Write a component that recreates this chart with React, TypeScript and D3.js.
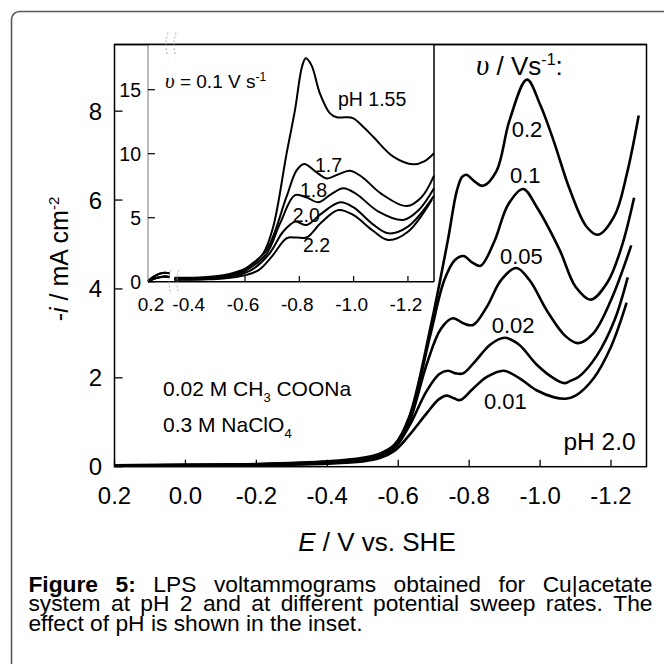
import React, { useEffect, useRef } from 'react';
import * as d3 from 'd3';

type Pt = [number, number];

// main plot: -i (mA cm-2) vs E (V), pH 2.0, different sweep rates
const rate02: Pt[] = [
  [0.2, 0.03], [0.0, 0.04], [-0.2, 0.06], [-0.4, 0.12], [-0.5, 0.2], [-0.55, 0.3], [-0.59, 0.5],
  [-0.63, 1.1], [-0.69, 3.1], [-0.74, 5.1], [-0.765, 6.2], [-0.78, 6.52], [-0.792, 6.57],
  [-0.815, 6.42], [-0.839, 6.32], [-0.877, 6.65], [-0.914, 7.8], [-0.963, 8.71], [-1.0, 8.15],
  [-1.037, 7.36], [-1.084, 6.23], [-1.131, 5.4], [-1.163, 5.22], [-1.21, 5.65], [-1.245, 6.6], [-1.278, 7.9],
];
const rate01: Pt[] = [
  [0.2, 0.03], [0.0, 0.04], [-0.2, 0.055], [-0.4, 0.1], [-0.5, 0.18], [-0.55, 0.28], [-0.59, 0.48],
  [-0.63, 1.05], [-0.69, 2.95], [-0.73, 4.2], [-0.76, 4.65], [-0.784, 4.74], [-0.808, 4.6],
  [-0.832, 4.52], [-0.87, 5.05], [-0.91, 5.9], [-0.952, 6.25], [-0.99, 5.85], [-1.055, 4.88],
  [-1.1, 4.05], [-1.143, 3.76], [-1.19, 4.15], [-1.23, 4.95], [-1.265, 6.05],
];
const rate005: Pt[] = [
  [0.2, 0.025], [0.0, 0.035], [-0.2, 0.05], [-0.4, 0.09], [-0.5, 0.16], [-0.55, 0.26], [-0.59, 0.45],
  [-0.63, 0.98], [-0.68, 2.3], [-0.72, 3.1], [-0.754, 3.34], [-0.785, 3.22], [-0.811, 3.19],
  [-0.85, 3.6], [-0.89, 4.2], [-0.933, 4.47], [-0.97, 4.2], [-1.02, 3.5], [-1.07, 2.95],
  [-1.107, 2.78], [-1.15, 3.0], [-1.2, 3.75], [-1.257, 4.98],
];
const rate002: Pt[] = [
  [0.2, 0.02], [0.0, 0.03], [-0.2, 0.045], [-0.4, 0.08], [-0.5, 0.14], [-0.55, 0.24], [-0.59, 0.42],
  [-0.63, 0.9], [-0.68, 1.7], [-0.715, 2.08], [-0.74, 2.16], [-0.762, 2.1], [-0.783, 2.1],
  [-0.82, 2.4], [-0.86, 2.75], [-0.9, 2.9], [-0.94, 2.75], [-0.99, 2.3], [-1.04, 1.98],
  [-1.068, 1.88], [-1.085, 1.93], [-1.11, 2.03], [-1.16, 2.5], [-1.21, 3.3], [-1.247, 4.26],
];
const rate001: Pt[] = [
  [0.2, 0.02], [0.0, 0.025], [-0.2, 0.04], [-0.4, 0.07], [-0.5, 0.12], [-0.55, 0.2], [-0.59, 0.36],
  [-0.63, 0.7], [-0.68, 1.2], [-0.715, 1.52], [-0.737, 1.6], [-0.757, 1.54], [-0.775, 1.5],
  [-0.81, 1.75], [-0.85, 2.02], [-0.897, 2.16], [-0.94, 2.0], [-0.99, 1.72], [-1.04, 1.56],
  [-1.072, 1.53], [-1.1, 1.6], [-1.15, 1.98], [-1.2, 2.7], [-1.244, 3.69],
];
const mainSeries = [rate02, rate01, rate005, rate002, rate001];
const rateLabels = ['0.2', '0.1', '0.05', '0.02', '0.01'];

// inset: v = 0.1 V/s at different pH (axis broken between 0.12 and -0.34 V)
const insetLeftA: Pt[] = [[0.2, 0.05], [0.18, 0.4], [0.16, 0.62], [0.14, 0.7], [0.125, 0.66]];
const insetLeftB: Pt[] = [[0.2, 0.0], [0.18, 0.22], [0.16, 0.34], [0.14, 0.4], [0.125, 0.36]];
const ph155: Pt[] = [
  [-0.34, 0.3], [-0.45, 0.35], [-0.52, 0.5], [-0.56, 0.7], [-0.6, 1.0], [-0.64, 1.6], [-0.667, 2.2],
  [-0.704, 4.3], [-0.753, 10.0], [-0.784, 13.4], [-0.81, 16.8], [-0.824, 17.45], [-0.845, 16.9],
  [-0.876, 14.7], [-0.913, 13.15], [-0.938, 12.84], [-0.97, 12.85], [-0.999, 12.76], [-1.04, 12.0],
  [-1.073, 11.3], [-1.146, 9.77], [-1.22, 9.17], [-1.26, 9.4], [-1.296, 10.03],
];
const ph17: Pt[] = [
  [-0.34, 0.25], [-0.45, 0.3], [-0.52, 0.42], [-0.58, 0.75], [-0.62, 1.3], [-0.68, 2.48],
  [-0.753, 6.64], [-0.79, 8.7], [-0.818, 9.2], [-0.86, 8.6], [-0.901, 8.07], [-0.94, 8.35],
  [-0.987, 8.67], [-1.03, 8.2], [-1.1, 6.9], [-1.195, 5.91], [-1.25, 6.6], [-1.296, 8.28],
];
const ph18: Pt[] = [
  [-0.34, 0.2], [-0.45, 0.25], [-0.52, 0.36], [-0.58, 0.65], [-0.62, 1.1], [-0.68, 2.2],
  [-0.73, 4.6], [-0.784, 6.77], [-0.83, 6.55], [-0.87, 6.2], [-0.915, 6.8], [-0.962, 7.3],
  [-1.01, 6.85], [-1.09, 5.5], [-1.183, 4.82], [-1.24, 5.6], [-1.296, 7.3],
];
const ph20: Pt[] = [
  [-0.34, 0.18], [-0.45, 0.22], [-0.52, 0.3], [-0.58, 0.55], [-0.63, 1.0], [-0.69, 2.2],
  [-0.74, 3.9], [-0.784, 4.69], [-0.827, 4.43], [-0.88, 5.3], [-0.95, 6.2], [-1.0, 5.8],
  [-1.07, 4.5], [-1.128, 3.78], [-1.2, 4.3], [-1.296, 6.7],
];
const ph22: Pt[] = [
  [-0.34, 0.15], [-0.45, 0.18], [-0.52, 0.25], [-0.6, 0.5], [-0.65, 0.9], [-0.7, 2.0],
  [-0.753, 3.39], [-0.79, 3.45], [-0.827, 3.45], [-0.88, 4.6], [-0.944, 5.6], [-1.0, 5.2],
  [-1.07, 4.0], [-1.128, 3.26], [-1.2, 3.9], [-1.288, 6.4],
];
const insetSeries = [ph155, ph17, ph18, ph20, ph22];
const insetLeftSeries = [insetLeftA, insetLeftA, insetLeftB, insetLeftB, insetLeftB];
const phLabels = ['pH 1.55', '1.7', '1.8', '2.0', '2.2'];

const mainXTicks = [0.2, 0.0, -0.2, -0.4, -0.6, -0.8, -1.0, -1.2];
const mainYTicks = [0, 2, 4, 6, 8];
const insetXTicks = [-0.6, -0.8, -1.0, -1.2];
const insetXLabels = [0.2, -0.4, -0.6, -0.8, -1.0, -1.2];
const insetYTicks = [0, 5, 10, 15];

const captionLines = [
  ['Figure', '5:', 'LPS', 'voltammograms', 'obtained', 'for', 'Cu|acetate'],
  ['system', 'at', 'pH', '2', 'and', 'at', 'different', 'potential', 'sweep', 'rates.', 'The'],
];
const captionLast = 'effect of pH is shown in the inset.';

const SANS = '"Liberation Sans", Arial, Helvetica, sans-serif';
const SERIF = '"Liberation Serif", "Times New Roman", serif';

const x = d3.scaleLinear().domain([0.2, -1.3]).range([114.5, 646.5]);
const y = d3.scaleLinear().domain([0, 9.5]).range([466.7, 44.5]);
const ix = d3.scaleLinear().domain([0.2, 0.12, -0.34, -1.296]).range([148, 171, 174.4, 434]);
const iy = d3.scaleLinear().domain([0, 18.53]).range([281.7, 44.5]);

const mainLine = d3.line<Pt>().x(d => x(d[0])).y(d => y(d[1])).curve(d3.curveCatmullRom.alpha(0.5));
const insetLine = d3.line<Pt>().x(d => ix(d[0])).y(d => iy(d[1])).curve(d3.curveCatmullRom.alpha(0.5));

const fmt = (v: number) => v.toFixed(1);

const CAP_L = 28.4;
const CAP_R = 652.5;

const App = () => {
  const capRef = useRef<SVGGElement>(null);

  useEffect(() => {
    // justify the first two caption lines like the printed figure
    d3.select(capRef.current).selectAll<SVGGElement, unknown>('g.just').each(function () {
      const words = d3.select(this).selectAll<SVGTextElement, unknown>('text').nodes();
      const widths = words.map(w => w.getComputedTextLength());
      const gap = (CAP_R - CAP_L - d3.sum(widths)) / (words.length - 1);
      let pos = CAP_L;
      words.forEach((w, k) => {
        w.setAttribute('x', String(pos));
        pos += widths[k] + gap;
      });
    });
  }, []);

  return (
    <svg width={664} height={664} style={{ position: 'absolute', left: 0, top: 0, background: '#fff' }}
      fontFamily={SANS}>
      <rect x={11.5} y={11.5} width={700} height={700} rx={8} fill="none" stroke="#5a5a5a" strokeWidth={1.6} />

      {/* main curves */}
      {mainSeries.map((s, k) => (
        <path key={k} d={mainLine(s) || ''} fill="none" stroke="#000" strokeWidth={2.6} strokeLinejoin="round" />
      ))}

      {/* main frame */}
      <rect x={x(0.2)} y={y(9.5)} width={x(-1.3) - x(0.2)} height={y(0) - y(9.5)} fill="none" stroke="#000" strokeWidth={1.5} />
      {mainXTicks.map(t => (
        <g key={t}>
          <line x1={x(t)} x2={x(t)} y1={y(0)} y2={y(0) - 7} stroke="#000" strokeWidth={1.3} />
          <text x={x(t)} y={504} fontSize={24} textAnchor="middle">{fmt(t)}</text>
        </g>
      ))}
      {mainYTicks.map(t => (
        <g key={t}>
          <line x1={x(0.2)} x2={x(0.2) + 8} y1={y(t)} y2={y(t)} stroke="#000" strokeWidth={1.3} />
          <text x={102} y={y(t) + 8.5} fontSize={24} textAnchor="end">{t}</text>
        </g>
      ))}

      {/* axis titles */}
      <text x={377} y={551} fontSize={26} textAnchor="middle">
        <tspan fontStyle="italic">E</tspan> / V vs. SHE
      </text>
      <text transform="translate(68,259) rotate(-90)" fontSize={25} textAnchor="middle">
        -<tspan fontStyle="italic">i</tspan> / mA cm<tspan dy={-9} fontSize={15}>-2</tspan>
      </text>

      {/* main annotations */}
      <text x={476} y={75} fontSize={26}>
        <tspan fontFamily={SERIF} fontStyle="italic" fontSize={29}>υ</tspan> / Vs<tspan dy={-10} fontSize={16}>-1</tspan><tspan dy={10}>:</tspan>
      </text>
      {[[511.7, 136.7], [510, 183], [500, 264], [491.7, 333.3], [484, 409.3]].map(([lx, ly], k) => (
        <text key={k} x={lx} y={ly} fontSize={22}>{rateLabels[k]}</text>
      ))}
      <text x={635.6} y={450} fontSize={24.5} textAnchor="end">pH 2.0</text>
      <text x={163} y={396} fontSize={21}>
        0.02 M CH<tspan dy={6} fontSize={13}>3</tspan><tspan dy={-6}> COONa</tspan>
      </text>
      <text x={163} y={432} fontSize={21}>
        0.3 M NaClO<tspan dy={6} fontSize={13}>4</tspan>
      </text>

      {/* inset */}
      <rect x={148} y={44.5} width={434 - 148} height={281.7 - 44.5} fill="#fff" />
      {insetSeries.map((s, k) => (
        <g key={k}>
          <path d={insetLine(insetLeftSeries[k]) || ''} fill="none" stroke="#000" strokeWidth={2} />
          <path d={insetLine(s) || ''} fill="none" stroke="#000" strokeWidth={2} strokeLinejoin="round" />
        </g>
      ))}
      <line x1={148} x2={148} y1={44.5} y2={281.7} stroke="#777" strokeWidth={1} />
      <line x1={148} x2={434} y1={281.7} y2={281.7} stroke="#000" strokeWidth={1.5} />
      <line x1={434} x2={434} y1={44.5} y2={281.7} stroke="#000" strokeWidth={1.5} />
      <line x1={114.5} x2={646.5} y1={44.5} y2={44.5} stroke="#000" strokeWidth={1.5} />
      {insetXTicks.map(t => (
        <line key={t} x1={ix(t)} x2={ix(t)} y1={281.7} y2={276} stroke="#000" strokeWidth={1.2} />
      ))}
      {insetXLabels.map(t => (
        <text key={t} x={t === 0.2 ? 151 : ix(t) - 2} y={311} fontSize={19} textAnchor="middle">{fmt(t)}</text>
      ))}
      {insetYTicks.map(t => (
        <g key={t}>
          <line x1={148} x2={155} y1={iy(t)} y2={iy(t)} stroke="#000" strokeWidth={1.2} />
          <text x={141} y={iy(t) + 7} fontSize={19.5} textAnchor="end">{t}</text>
        </g>
      ))}
      {/* axis break marks */}
      {[[172, 44.5], [175, 281.7]].map(([bx, by], k) => (
        <g key={k} fill="none" stroke="#aaa" strokeWidth={1} strokeDasharray="2,2">
          <path d={`M${bx - 4},${by - 12} q-4,12 0,24`} />
          <path d={`M${bx + 4},${by - 12} q-4,12 0,24`} />
        </g>
      ))}
      <text x={165} y={88} fontSize={19}>
        <tspan fontFamily={SERIF} fontStyle="italic" fontSize={21}>υ</tspan> = 0.1 V s<tspan dy={-7} fontSize={12}>-1</tspan>
      </text>
      {[[338, 106], [315, 171.7], [300, 196.7], [292.7, 222], [303, 252]].map(([lx, ly], k) => (
        <text key={k} x={lx} y={ly} fontSize={19.5}>{phLabels[k]}</text>
      ))}

      {/* caption */}
      <g ref={capRef} fontSize={22.8}>
        {captionLines.map((ws, li) => (
          <g className="just" key={li}>
            {ws.map((w, wi) => (
              <text key={wi} x={CAP_L} y={592 + li * 19.3} fontWeight={li === 0 && wi < 2 ? 'bold' : 'normal'}>{w}</text>
            ))}
          </g>
        ))}
        <text x={CAP_L} y={630.6}>{captionLast}</text>
      </g>
    </svg>
  );
};

export default App;
